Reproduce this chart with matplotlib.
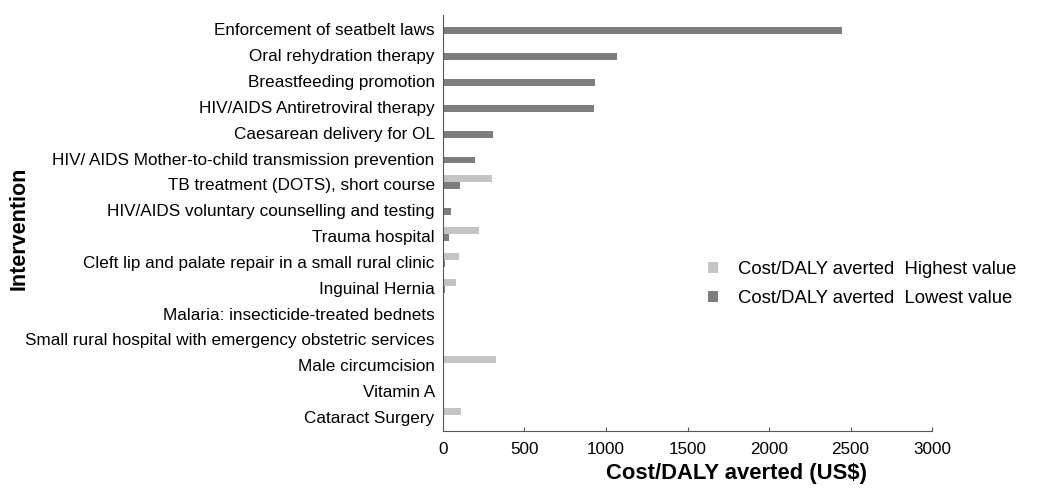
import matplotlib.pyplot as plt
import numpy as np

plt.rcParams['font.family'] = ['Liberation Sans', 'DejaVu Sans']

# 干预措施（从上到下）
interventions = [
    'Enforcement of seatbelt laws',
    'Oral rehydration therapy',
    'Breastfeeding promotion',
    'HIV/AIDS Antiretroviral therapy',
    'Caesarean delivery for OL',
    'HIV/ AIDS Mother-to-child transmission prevention',
    'TB treatment (DOTS), short course',
    'HIV/AIDS voluntary counselling and testing',
    'Trauma hospital',
    'Cleft lip and palate repair in a small rural clinic',
    'Inguinal Hernia',
    'Malaria: insecticide-treated bednets',
    'Small rural hospital with emergency obstetric services',
    'Male circumcision',
    'Vitamin A',
    'Cataract Surgery',
]
highest = [0, 0, 0, 0, 0, 0, 303, 0, 224, 97, 80, 0, 0, 325, 3, 108]
lowest = [2450, 1065, 935, 925, 308, 195, 105, 49, 34, 15, 10, 8, 6, 6, 5, 5]

fig = plt.figure(figsize=(10.61, 4.91), dpi=100)
ax = fig.add_axes([0.4175, 0.122, 0.461, 0.847])

y = np.arange(len(interventions))[::-1]
h = 0.27
ax.barh(y + 0.215, highest, height=h, color='#c4c4c4', label='Cost/DALY averted  Highest value')
ax.barh(y - 0.055, lowest, height=h, color='#7d7d7d', label='Cost/DALY averted  Lowest value')

ax.set_yticks(y)
ax.set_yticklabels(interventions, fontsize=12.3)
ax.tick_params(axis='y', length=0, pad=6)
ax.set_ylim(-0.55, len(interventions) - 0.45)

ax.set_xlim(0, 3000)
ax.set_xticks(np.arange(0, 3001, 500))
ax.tick_params(axis='x', direction='in', length=3, labelsize=12.3, color='#555555', pad=8)

for s in ['top', 'right']:
    ax.spines[s].set_visible(False)
for s in ['left', 'bottom']:
    ax.spines[s].set_color('#555555')

ax.set_xlabel('Cost/DALY averted (US$)', fontsize=15.8, fontweight='bold')
ax.xaxis.set_label_coords(0.60, -0.076)
fig.text(0.018, 0.535, 'Intervention', rotation=90, fontsize=15.5, fontweight='bold',
         ha='center', va='center')

ax.legend(loc='center left', bbox_to_anchor=(0.508, 0.354), frameon=False, fontsize=13.3,
          handlelength=0.55, handleheight=0.55, handletextpad=1.05, labelspacing=0.64)

plt.savefig('out.png', dpi=100)
